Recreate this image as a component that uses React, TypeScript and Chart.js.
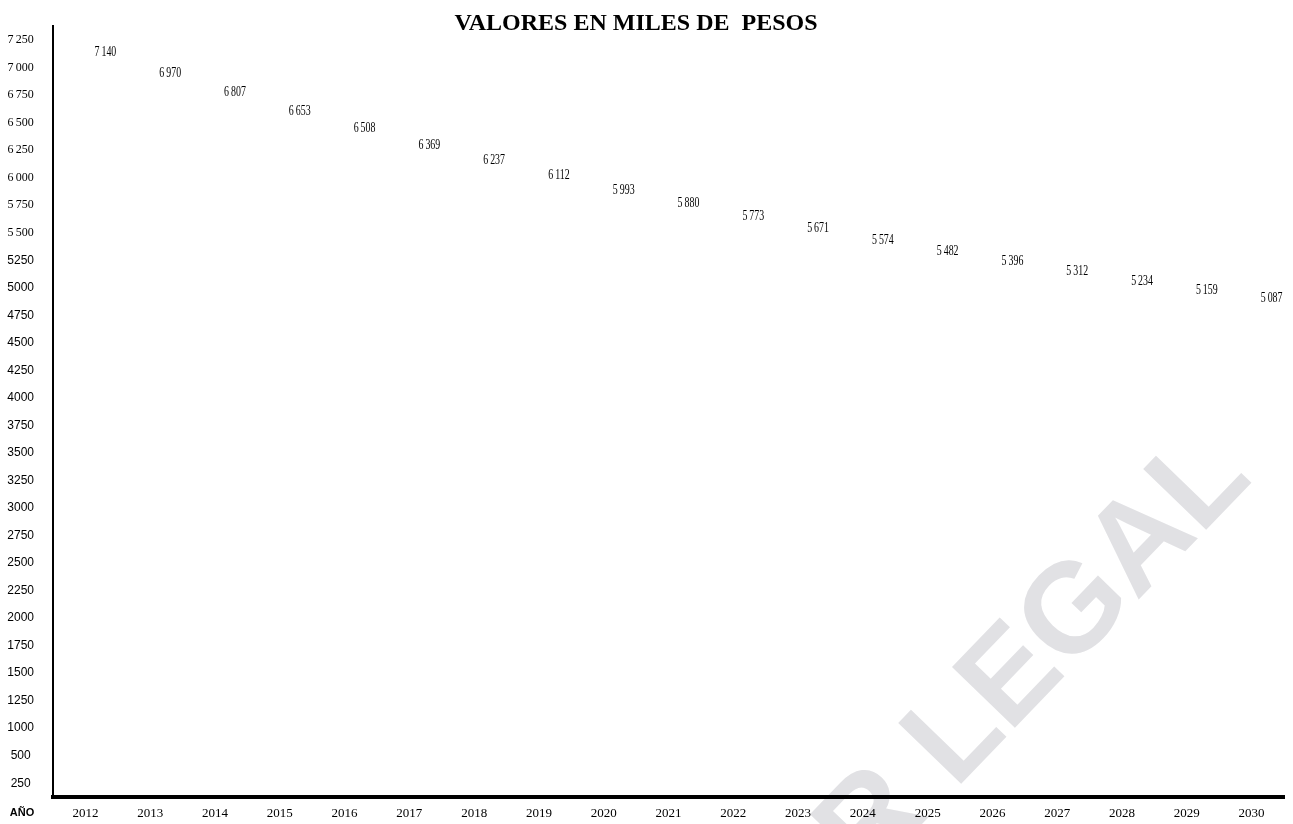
import React, { useEffect, useRef } from "react";
import { Chart, registerables } from "chart.js";

Chart.register(...registerables);

const TITLE = "VALORES EN MILES DE  PESOS";
const YEARS = ["2012","2013","2014","2015","2016","2017","2018","2019","2020","2021","2022","2023","2024","2025","2026","2027","2028","2029","2030"];
const VALUES = [7140, 6970, 6807, 6653, 6508, 6369, 6237, 6112, 5993, 5880, 5773, 5671, 5574, 5482, 5396, 5312, 5234, 5159, 5087];
const Y_LABELS = ["7\u2009250","7\u2009000","6\u2009750","6\u2009500","6\u2009250","6\u2009000","5\u2009750","5\u2009500","5250","5000","4750","4500","4250","4000","3750","3500","3250","3000","2750","2500","2250","2000","1750","1500","1250","1000","500","250"];
const X_HEADER = "AÑO";
const WATERMARK = "R LEGAL";

const SERIF = "'Liberation Serif', 'Times New Roman', serif";
const SANS = "'Liberation Sans', Arial, sans-serif";

function fmt(v: number): string {
  const s = String(v);
  return s.length > 3 ? s.slice(0, s.length - 3) + "\u2009" + s.slice(-3) : s;
}

const decorPlugin = {
  id: "decor",
  beforeDraw(chart: any) {
    const ctx = chart.ctx;
    ctx.save();
    ctx.translate(867, 881);
    ctx.rotate((-46 * Math.PI) / 180);
    ctx.fillStyle = "rgb(225,225,228)";
    ctx.font = "bold 127px " + SANS;
    ctx.textAlign = "left";
    ctx.textBaseline = "alphabetic";
    ctx.fillText(WATERMARK, 0, 0);
    ctx.restore();
  },
  afterDatasetsDraw(chart: any) {
    const ctx = chart.ctx;
    const meta = chart.getDatasetMeta(0);
    ctx.save();
    ctx.fillStyle = "#000";
    ctx.font = "15px " + SERIF;
    ctx.textAlign = "center";
    ctx.textBaseline = "middle";
    meta.data.forEach((pt: any, i: number) => {
      ctx.save();
      ctx.translate(pt.x + 20, pt.y + 1);
      ctx.scale(0.66, 1);
      ctx.fillText(fmt(VALUES[i]), 0, 0);
      ctx.restore();
    });
    ctx.restore();
  },
  afterDraw(chart: any) {
    const ctx = chart.ctx;
    ctx.save();
    ctx.fillStyle = "#000";
    ctx.font = "bold 24px " + SERIF;
    ctx.textAlign = "center";
    ctx.textBaseline = "alphabetic";
    ctx.fillText(TITLE, 636, 30);
    ctx.font = "bold 11px " + SANS;
    ctx.textBaseline = "middle";
    ctx.fillText(X_HEADER, 22, 813);
    ctx.restore();
  },
};

export default function App() {
  const ref = useRef<HTMLCanvasElement | null>(null);
  useEffect(() => {
    if (!ref.current) return;
    const chart = new Chart(ref.current, {
      type: "line",
      data: {
        labels: YEARS,
        datasets: [
          {
            label: "Valores",
            data: VALUES,
            xAxisID: "x",
            yAxisID: "v",
            showLine: false,
            pointRadius: 0,
            pointHoverRadius: 0,
            borderColor: "rgba(0,0,0,0)",
            backgroundColor: "rgba(0,0,0,0)",
          },
        ],
      },
      options: {
        responsive: false,
        animation: false,
        events: [],
        layout: { padding: { top: 22, right: 9, left: 0, bottom: 0 } },
        plugins: {
          legend: { display: false },
          title: { display: false },
          tooltip: { enabled: false },
        },
        scales: {
          x: {
            type: "category",
            position: "bottom",
            offset: true,
            grid: { display: false, drawTicks: false },
            border: { display: true, color: "#000", width: 4 },
            ticks: {
              color: "#000",
              font: { family: SERIF, size: 13 },
              padding: 9,
              maxRotation: 0,
              autoSkip: false,
            },
            afterFit: (s: any) => {
              s.height = 27;
            },
          },
          y: {
            type: "category",
            position: "left",
            labels: Y_LABELS,
            offset: true,
            grid: { display: false, drawTicks: false },
            border: { display: true, color: "#000", width: 2 },
            ticks: {
              color: "#000",
              autoSkip: false,
              crossAlign: "center",
              padding: 19,
              font: (c: any) =>
                c.index < 8
                  ? { family: SERIF, size: 12 }
                  : { family: SANS, size: 12 },
            },
            afterFit: (s: any) => {
              s.width = 53;
            },
          },
          v: {
            type: "linear",
            position: "left",
            display: false,
            min: 915,
            max: 7350,
          },
        },
      } as any,
      plugins: [decorPlugin],
    });
    return () => chart.destroy();
  }, []);
  return (
    <div style={{ position: "fixed", left: 0, top: 0, width: 1293, height: 824, background: "#fff" }}>
      <canvas ref={ref} width={1293} height={824} style={{ display: "block" }} />
    </div>
  );
}
